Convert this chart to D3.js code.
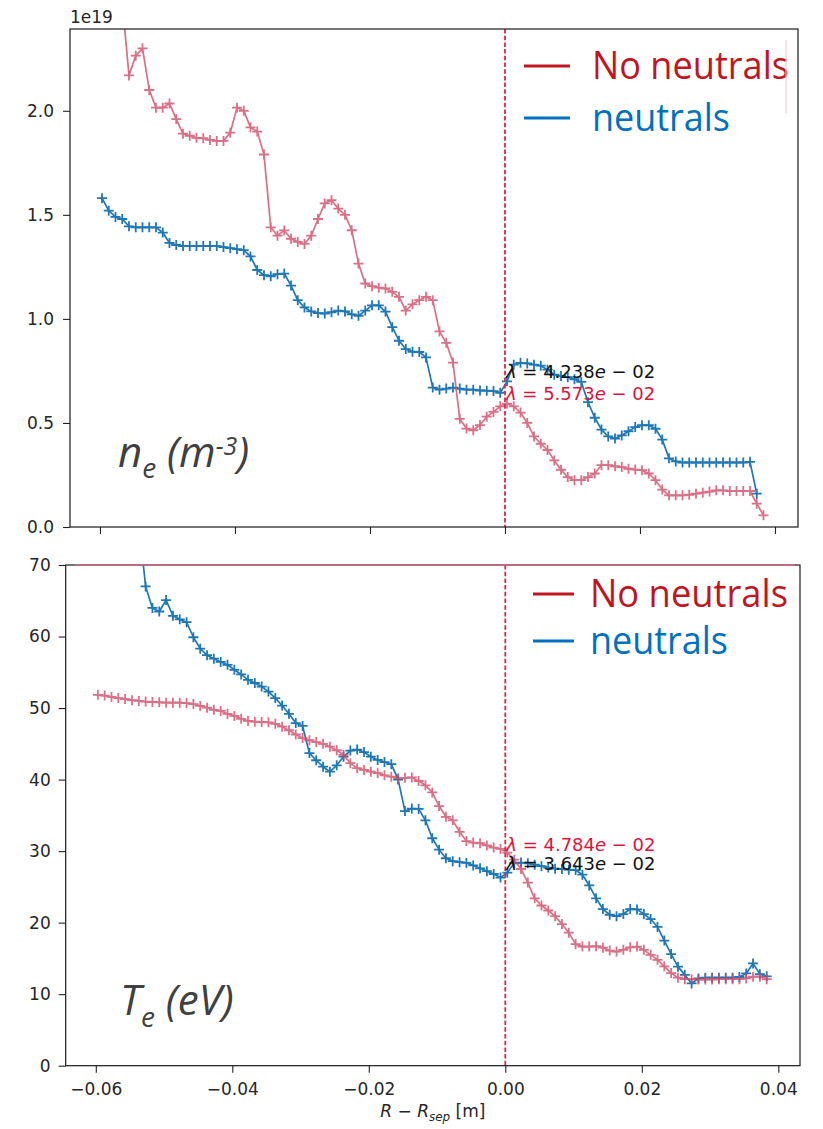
<!DOCTYPE html>
<html><head><meta charset="utf-8">
<script src="https://cdn.jsdelivr.net/npm/d3@7"></script>
<style>body{margin:0;background:#fff} svg{display:block} text{white-space:pre}</style>
</head><body>
<svg id="c" width="823" height="1129"></svg>
<script>
// ---------------- DATA ----------------
const xPos = [
-0.0597,-0.0587,-0.0577,-0.0567,-0.0557,-0.0547,-0.0537,-0.0527,-0.0517,-0.0507,
-0.0497,-0.0487,-0.0477,-0.0467,-0.0457,-0.0447,-0.0437,-0.0427,-0.0417,-0.0407,
-0.0397,-0.0387,-0.0377,-0.0367,-0.0357,-0.0347,-0.0337,-0.0327,-0.0317,-0.0307,
-0.0297,-0.0287,-0.0277,-0.0267,-0.0257,-0.0247,-0.0237,-0.0227,-0.0217,-0.0207,
-0.0197,-0.0187,-0.0177,-0.0167,-0.0157,-0.0147,-0.0137,-0.0127,-0.0117,-0.0107,
-0.0097,-0.0087,-0.0077,-0.0067,-0.0057,-0.0047,-0.0037,-0.0027,-0.0017,-0.0007,
0.0003,0.0013,0.0023,0.0033,0.0043,0.0053,0.0063,0.0073,0.0083,0.0093,
0.0103,0.0113,0.0123,0.0133,0.0143,0.0153,0.0163,0.0173,0.0183,0.0193,
0.0203,0.0213,0.0223,0.0233,0.0243,0.0253,0.0263,0.0273,0.0283,0.0293,
0.0303,0.0313,0.0323,0.0333,0.0343,0.0353,0.0363,0.0373,0.0383];

// n_e [1e19 m^-3], no neutrals (red)
const neNoNeutrals = [
2.70,2.65,2.60,2.52,2.17,2.265,2.30,2.10,2.015,2.015,
2.035,1.96,1.89,1.88,1.87,1.868,1.86,1.855,1.855,1.895,
2.015,2.00,1.92,1.90,1.79,1.44,1.40,1.425,1.385,1.37,
1.36,1.40,1.48,1.555,1.57,1.53,1.50,1.426,1.266,1.17,
1.157,1.15,1.146,1.13,1.106,1.04,1.07,1.09,1.106,1.09,
0.94,0.885,0.79,0.52,0.473,0.465,0.49,0.53,0.553,0.58,
0.593,0.58,0.55,0.50,0.435,0.40,0.37,0.32,0.275,0.24,
0.225,0.225,0.24,0.257,0.297,0.297,0.292,0.288,0.28,0.276,
0.273,0.257,0.225,0.18,0.152,0.152,0.152,0.155,0.16,0.165,
0.17,0.176,0.176,0.173,0.173,0.173,0.173,0.112,0.056];

// n_e [1e19 m^-3], neutrals (blue)
const neNeutrals = [
1.58,1.52,1.49,1.48,1.445,1.44,1.44,1.44,1.44,1.415,
1.365,1.355,1.35,1.35,1.35,1.35,1.35,1.35,1.345,1.34,
1.335,1.33,1.30,1.235,1.21,1.205,1.215,1.218,1.16,1.09,
1.055,1.036,1.028,1.026,1.032,1.04,1.036,1.022,1.015,1.04,
1.065,1.065,1.035,0.96,0.895,0.855,0.842,0.841,0.815,0.67,
0.66,0.665,0.67,0.665,0.66,0.66,0.656,0.655,0.653,0.645,
0.70,0.78,0.789,0.786,0.78,0.775,0.756,0.732,0.726,0.72,
0.71,0.697,0.60,0.525,0.468,0.435,0.425,0.44,0.46,0.48,
0.489,0.489,0.472,0.42,0.33,0.315,0.31,0.31,0.31,0.31,
0.31,0.31,0.31,0.31,0.31,0.31,0.313,0.16,null];

// T_e [eV], no neutrals (red)
const teNoNeutrals = [
51.85,51.75,51.55,51.4,51.25,51.1,51.0,50.9,50.85,50.8,
50.75,50.75,50.75,50.7,50.55,50.3,50.05,49.75,49.6,49.2,
48.9,48.5,48.2,48.1,48.05,48.0,47.8,47.4,46.9,46.3,
45.8,45.5,45.25,45.0,44.6,44.1,43.45,42.3,41.6,41.35,
41.1,40.9,40.6,40.4,40.2,40.25,40.3,39.8,39.2,38.2,
36.3,34.8,34.3,32.7,31.4,31.2,31.1,30.8,30.5,30.3,
29.8,28.8,27.5,25.6,23.4,22.4,21.7,20.9,19.8,18.6,
17.0,16.65,16.65,16.7,16.5,16.1,15.95,16.2,16.55,16.65,
16.2,15.5,14.8,13.9,12.95,12.3,12.1,12.1,12.05,12.05,
12.05,12.1,12.1,12.1,12.1,12.2,12.45,12.45,12.1];

// T_e [eV], neutrals (blue)
const teNeutrals = [
100,96,92,88,84,80,76,67.0,64.0,63.5,
65.1,62.9,62.4,62.0,59.9,58.3,57.4,56.9,56.45,56.05,
55.35,54.7,53.95,53.5,53.0,52.3,51.4,50.35,49.2,47.9,
47.5,43.7,42.7,41.8,41.1,42.0,43.2,44.05,44.2,43.85,
43.2,42.75,42.45,42.15,40.0,35.6,35.95,35.9,34.3,31.8,
30.2,29.0,28.6,28.45,28.35,28.0,27.6,27.2,26.8,26.3,
27.0,28.3,28.4,28.3,28.1,27.9,27.7,27.55,27.5,27.4,
27.35,26.7,25.2,23.4,21.9,21.1,20.9,21.2,21.9,21.85,
21.2,20.5,19.4,17.5,15.6,13.85,12.7,11.5,12.2,12.3,
12.3,12.3,12.3,12.3,12.4,12.9,14.3,12.8,12.5];

const xTicks = [-0.06,-0.04,-0.02,0.00,0.02,0.04];
const neTicks = [0.0,0.5,1.0,1.5,2.0];
const teTicks = [0,10,20,30,40,50,60,70];
const legendLabels = ["No neutrals","neutrals"];
const neLambda = ["4.238","5.573"];   // neutrals, no neutrals
const teLambda = ["3.643","4.784"];   // neutrals, no neutrals

// ---------------- STYLE / LAYOUT ----------------
const C_BLUE = "#1f77b4", C_RED = "#cf4d6a", C_SEP = "#d42a50";
const C_LEG_RED = "#c0161f", C_LEG_BLUE = "#0070c0";
const svg = d3.select("#c");
const panels = [
  {id:"ne", l:70, r:798, t:29, b:527, xd:[-0.06444,0.04341], yd:[0,2.393], yTicks:neTicks,
   yFmt:d3.format(".1f"), blue:neNeutrals, red:neNoNeutrals, xLabels:false, pad:9,
   lam:[{txt:neLambda[0], v:0.718, c:"#111"},{txt:neLambda[1], v:0.612, c:"crimson"}],
   leg:{x1:524,x2:570,tx:592,y1:66,y2:118,w1:197,w2:138},
   label:{parts:[["n",42,0],["e",28,11],[" (m",42,-11],["-3",25,-12],[")",42,12]], x:118, y:466.7}},
  {id:"te", l:65.7, r:800, t:565, b:1065.7, xd:[-0.06441,0.04318], yd:[0,70], yTicks:teTicks,
   yFmt:d3.format("d"), blue:teNeutrals, red:teNoNeutrals, xLabels:true, pad:8,
   lam:[{txt:teLambda[1], v:30.07, c:"crimson"},{txt:teLambda[0], v:27.37, c:"#111"}],
   leg:{x1:533,x2:574,tx:590,y1:594,y2:641,w1:198,w2:138},
   label:{parts:[["T",42,0],["e",28,12],[" (eV)",42,-12]], x:120, y:1015}}
];

const plusPath = "M-5,0H5M0,-5V5";

panels.forEach(p => {
  const x = d3.scaleLinear().domain(p.xd).range([p.l, p.r]);
  const y = d3.scaleLinear().domain(p.yd).range([p.b, p.t]);
  const clipId = "clip-" + p.id;
  svg.append("clipPath").attr("id", clipId).append("rect")
    .attr("x", p.l).attr("y", p.t).attr("width", p.r - p.l).attr("height", p.b - p.t);

  const plot = svg.append("g").attr("clip-path", `url(#${clipId})`);
  const line = d3.line().defined(d => d[1] != null).x(d => x(d[0])).y(d => y(d[1]));

  function series(vals, color, op) {
    const pts = xPos.map((xv, i) => [xv, vals[i]]);
    const g = plot.append("g").attr("opacity", op);
    g.append("path").attr("d", line(pts)).attr("fill", "none")
      .attr("stroke", color).attr("stroke-width", 1.7).attr("stroke-linejoin", "round");
    g.selectAll("path.m").data(pts.filter(d => d[1] != null)).join("path").attr("class", "m")
      .attr("d", plusPath)
      .attr("transform", d => `translate(${x(d[0])},${y(d[1])})`)
      .attr("stroke", color).attr("stroke-width", 1.8).attr("fill", "none");
  }
  series(p.blue, C_BLUE, 1);
  series(p.red, C_RED, 0.8);

  // separatrix
  svg.append("line").attr("x1", x(0)).attr("x2", x(0)).attr("y1", p.t).attr("y2", p.b)
    .attr("stroke", C_SEP).attr("stroke-width", 1.8).attr("stroke-dasharray", "4.5,2.2");

  // axes
  const yAx = svg.append("g").attr("transform", `translate(${p.l},0)`)
    .call(d3.axisLeft(y).tickValues(p.yTicks).tickFormat(p.yFmt).tickSize(7).tickPadding(p.pad));
  const xAx = svg.append("g").attr("transform", `translate(0,${p.b})`)
    .call(d3.axisBottom(x).tickValues(xTicks).tickFormat(p.xLabels ? d3.format(".2f") : "").tickSize(7).tickPadding(10));
  [yAx, xAx].forEach(a => {
    a.select(".domain").remove();
    a.selectAll("line").attr("stroke", "#222").attr("stroke-width", 1.1);
    a.selectAll("text").attr("font-family", "DejaVu Sans").attr("font-size", 17).attr("fill", "#262626");
  });

  // spines
  svg.append("rect").attr("x", p.l).attr("y", p.t).attr("width", p.r - p.l).attr("height", p.b - p.t)
    .attr("fill", "none").attr("stroke", "#1a1a1a").attr("stroke-width", 1.2);

  // lambda annotations
  p.lam.forEach(a => {
    const t = svg.append("text").attr("x", x(0) + 1).attr("y", y(a.v))
      .attr("font-family", "DejaVu Sans").attr("font-size", 18).attr("fill", a.c);
    t.append("tspan").attr("font-style", "italic").text("λ");
    t.append("tspan").text(" = " + a.txt);
    t.append("tspan").attr("font-style", "italic").text("e");
    t.append("tspan").text(" − 02");
  });

  // quantity label
  const lt = svg.append("text").attr("x", p.label.x).attr("y", p.label.y)
    .attr("font-family", "Open Sans").attr("font-style", "italic").attr("fill", "#404040");
  p.label.parts.forEach(([s, fs, dy]) => lt.append("tspan").attr("font-size", fs).attr("dy", dy).text(s));

  // legend (overlay)
  const L = p.leg;
  [[L.y1, C_LEG_RED, legendLabels[0], L.w1], [L.y2, C_LEG_BLUE, legendLabels[1], L.w2]].forEach(([yy, c, s, w]) => {
    svg.append("line").attr("x1", L.x1).attr("x2", L.x2).attr("y1", yy).attr("y2", yy)
      .attr("stroke", c).attr("stroke-width", 3);
    svg.append("text").attr("x", L.tx).attr("y", yy + 12.5).attr("font-family", "Open Sans")
      .attr("font-size", 38).attr("fill", c).attr("textLength", w).attr("lengthAdjust", "spacingAndGlyphs").text(s);
  });
  if (p.id === "ne") {
    svg.append("line").attr("x1", L.tx + L.w1 - 3).attr("x2", L.tx + L.w1 - 3)
      .attr("y1", p.t + 11).attr("y2", p.t + 84).attr("stroke", "#f2c4cd").attr("stroke-width", 1);
    svg.append("text").attr("x", p.l).attr("y", p.t - 6).attr("font-family", "DejaVu Sans")
      .attr("font-size", 17).attr("fill", "#262626").text("1e19");
  } else {
    svg.append("line").attr("x1", p.l + 9).attr("x2", p.r - 5).attr("y1", p.t).attr("y2", p.t)
      .attr("stroke", "#cf6d82").attr("stroke-width", 1.6);
    const xl = svg.append("text").attr("x", (p.l + p.r) / 2).attr("y", 1117)
      .attr("text-anchor", "middle").attr("font-family", "DejaVu Sans").attr("font-size", 17).attr("fill", "#262626");
    xl.append("tspan").attr("font-style", "italic").text("R");
    xl.append("tspan").text(" − ");
    xl.append("tspan").attr("font-style", "italic").text("R");
    xl.append("tspan").attr("font-style", "italic").attr("font-size", 12).attr("dy", 4).text("sep");
    xl.append("tspan").attr("dy", -4).text(" [m]");
  }
});
</script>
</body></html>
